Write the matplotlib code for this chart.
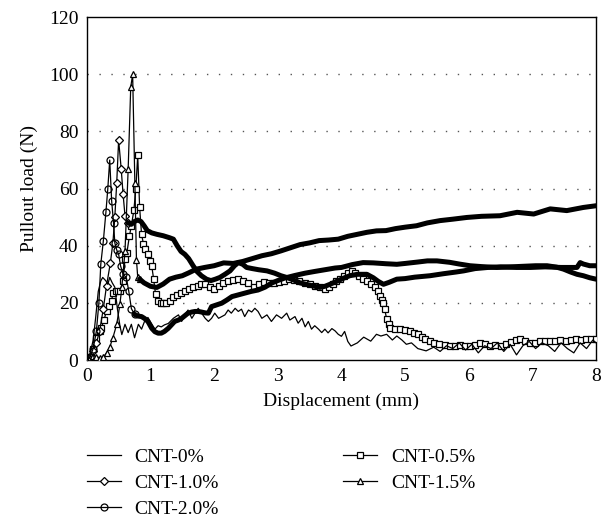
import matplotlib
matplotlib.use("Agg")
import matplotlib.pyplot as plt

plt.rcParams['font.family'] = ['Liberation Serif', 'DejaVu Serif']
plt.rcParams['font.size'] = 14

# CNT-0% (plain line)
x0 = [0, 0.05, 0.1, 0.14, 0.18, 0.22, 0.25, 0.3, 0.33, 0.36, 0.4, 0.44, 0.48, 0.52, 0.55,
      0.6, 0.65, 0.7, 0.75, 0.81, 0.86, 0.91, 0.96, 1.01, 1.07, 1.12, 1.17, 1.22, 1.28, 1.36,
      1.44, 1.49, 1.54, 1.59, 1.65, 1.7, 1.75, 1.8, 1.86, 1.91, 1.96, 2.01, 2.07, 2.12, 2.17,
      2.22, 2.27, 2.33, 2.38, 2.43, 2.48, 2.54, 2.59, 2.64, 2.69, 2.75, 2.83, 2.9, 2.98, 3.06,
      3.14, 3.19, 3.27, 3.32, 3.38, 3.43, 3.48, 3.53, 3.58, 3.64, 3.69, 3.74, 3.79, 3.85, 3.9,
      3.95, 4.0, 4.05, 4.1, 4.15, 4.25, 4.35, 4.46, 4.55, 4.62, 4.71, 4.8, 4.87, 4.95, 5.02,
      5.1, 5.2, 5.33, 5.45, 5.55, 5.65, 5.75, 5.85, 5.95, 6.05, 6.15, 6.25, 6.35, 6.45, 6.55,
      6.65, 6.75, 6.85, 6.95, 7.05, 7.15, 7.25, 7.35, 7.45, 7.55, 7.65, 7.75, 7.85, 7.95, 8.0]
y0 = [0, 2, 7, 15, 24, 27.7, 28.9, 27.7, 26.5, 28.9, 27, 25.5, 18, 12, 8.9,
      12.5, 9.6, 12.5, 7.8, 12.5, 10.8, 13.7, 14.9, 13, 10.8, 12, 11.6, 12.3, 12.8, 14.6,
      15.8, 13.5, 15.8, 17.5, 14.6, 16.4, 18.1, 16.5, 14.6, 13.5, 14.6, 16.4, 14.6, 15.2, 15.8,
      17.5, 16.4, 18.1, 17, 17.8, 15.2, 17.5, 16.8, 18.1, 17, 14.6, 15.8, 13.5, 15.8, 14.6,
      16.4, 14, 15.2, 12.9, 14.6, 11.6, 13.5, 10.8, 12, 10.8, 9.6, 10.8, 9.5, 11, 10.2,
      9, 8.3, 10, 6.5, 4.9, 6, 8, 6.6, 9, 8.4, 9, 7, 8.4, 7, 5.5,
      6, 4, 3.2, 4.5, 3, 5, 4, 6, 3.5, 5.5, 2.5, 5, 4, 6, 3,
      5.5, 1.8, 5, 6.5, 4, 6, 5, 3, 6, 4, 2.5, 6, 4, 7, 6]

# CNT-0.5% (squares)
x05 = [0, 0.05, 0.1, 0.15, 0.2, 0.23, 0.27, 0.31, 0.35, 0.39, 0.41, 0.46, 0.52, 0.57, 0.6,
       0.63, 0.67, 0.7, 0.74, 0.77, 0.8, 0.83, 0.86, 0.89, 0.92, 0.96, 0.99, 1.02, 1.05, 1.08,
       1.12, 1.16, 1.2, 1.25, 1.3, 1.36, 1.42, 1.48, 1.54, 1.6, 1.67, 1.74, 1.8, 1.86, 1.93,
       2.0, 2.07, 2.14, 2.22, 2.3, 2.38, 2.46, 2.54, 2.62, 2.7, 2.78, 2.86, 2.94, 3.02, 3.1,
       3.18, 3.26, 3.34, 3.42, 3.5, 3.58, 3.66, 3.74, 3.8, 3.86, 3.92, 3.98, 4.04, 4.1, 4.16,
       4.22, 4.28, 4.34, 4.4, 4.46, 4.52, 4.57, 4.61, 4.64, 4.66, 4.68, 4.71, 4.74, 4.77, 4.84,
       4.92, 5.0, 5.08, 5.14, 5.2, 5.26, 5.32, 5.39, 5.46, 5.54, 5.62, 5.7, 5.78, 5.86, 5.94,
       6.02, 6.1, 6.18, 6.26, 6.34, 6.42, 6.5, 6.58, 6.66, 6.74, 6.8, 6.88, 6.96, 7.04, 7.12,
       7.2, 7.28, 7.36, 7.44, 7.52, 7.6, 7.68, 7.76, 7.84, 7.92, 8.0]
y05 = [0, 1, 4, 7.8, 10, 11.3, 14, 17.2, 19, 20.7, 23.6, 24, 24.2, 27.7, 35.3,
       37.6, 43.5, 47, 52.5, 60, 71.6, 53.4, 44, 40.6, 38.8, 37, 34.7, 33, 28.3, 23,
       20.5, 19.8, 20, 19.8, 20.5, 21.9, 22.8, 23.6, 24, 24.8, 25.6, 26, 26.5, 26.5, 25.5,
       25, 25.9, 27, 27.6, 28, 28.2, 27.8, 27, 25.6, 26.5, 27.2, 27, 27, 27.4, 27.8,
       28.2, 28, 27.5, 27, 26.5, 25.8, 25.5, 24.7, 25.4, 26.5, 27.5, 28.3, 29.5, 30.4, 31.2,
       30.5, 29.4, 28.3, 27.5, 26.5, 25.4, 24, 22.4, 21, 20, 17.8, 14.3, 12.5, 11.3, 11,
       10.8, 10.5, 10.2, 9.6, 9, 8, 7.3, 6.7, 6, 5.5, 5.2, 5, 4.9, 5.3, 4.9,
       5, 5.4, 5.8, 5.5, 5, 5.3, 4.9, 5.5, 6.3, 7, 7.3, 6.5, 6, 6.1, 6.5,
       6.8, 6.5, 6.7, 7, 6.8, 6.9, 7.2, 7, 7.3, 7.4, 7.3]

# CNT-1.0% (diamonds)
x10 = [0, 0.05, 0.1, 0.15, 0.2, 0.26, 0.31, 0.37, 0.41, 0.44, 0.47, 0.5, 0.54, 0.57, 0.6,
       0.65, 0.7, 0.75, 0.8, 0.85, 0.9, 0.95, 1.02, 1.1, 1.2, 1.3, 1.36, 1.42, 1.48, 1.54,
       1.6, 1.67, 1.73, 1.8, 1.88, 1.95, 2.02, 2.09, 2.17, 2.25, 2.32, 2.38, 2.45, 2.51, 2.6,
       2.7, 2.83, 2.95, 3.05, 3.14, 3.25, 3.35, 3.5, 3.66, 3.74, 3.82, 3.95, 4.05, 4.13, 4.25,
       4.4, 4.5, 4.58, 4.66, 4.75, 4.87, 5.0, 5.15, 5.39, 5.6, 5.8, 5.92, 6.1, 6.3, 6.5,
       6.75, 6.97, 7.2, 7.45, 7.7, 7.75, 7.8, 7.9, 8.0]
y10 = [0, 1, 3, 6, 10, 18, 26, 34, 41, 50, 62, 77, 67, 58, 50.5,
       48, 47.5, 48.5, 49, 48.5, 47, 45.3, 44.5, 44, 43.5, 42.8, 42.3, 40, 38, 37,
       35.5, 33, 31, 29.5, 28.3, 27.8, 28.3, 28.9, 30, 31.2, 33, 34.1, 33.5, 32.4, 32,
       31.6, 31.2, 30.4, 29.5, 28.9, 28, 27, 26.2, 25.4, 25.8, 26.5, 27.8, 28.8, 29.5, 30,
       30, 28.8, 27.5, 26.5, 27.2, 28.3, 28.5, 29, 29.5, 30.2, 30.8, 31.2, 32, 32.4, 32.6,
       32.4, 32.4, 32.6, 32.4, 32.4, 34.1, 33.6, 33, 33]

# CNT-1.5% (triangles)
x15 = [0, 0.05, 0.1, 0.15, 0.2, 0.26, 0.31, 0.36, 0.41, 0.47, 0.52, 0.55, 0.6, 0.65, 0.69,
       0.72, 0.755, 0.78, 0.8, 0.83, 0.9, 1.0, 1.1, 1.2, 1.3, 1.4, 1.5, 1.6, 1.72, 1.85,
       2.0, 2.15, 2.3, 2.45, 2.6, 2.75, 2.9, 3.05, 3.2, 3.35, 3.5, 3.65, 3.8, 3.95, 4.1,
       4.25, 4.4, 4.55, 4.7, 4.85, 5.0, 5.18, 5.35, 5.55, 5.75, 5.97, 6.2, 6.49, 6.76, 7.02,
       7.28, 7.54, 7.8, 8.0]
y15 = [0, 0.8, 1.5, 1.2, 0.8, 1, 2.5, 4.5, 7.8, 12.5, 19.5, 25.4, 38, 67, 95.5,
       100, 62, 35, 29, 28.3, 27, 25.8, 25.4, 26.6, 28.3, 29, 29.5, 30.5, 31.8, 32.4,
       33, 34, 33.8, 34.5, 35.5, 36.5, 37.2, 38.2, 39.3, 40.4, 41, 41.8, 42, 42.3, 43.3,
       44, 44.7, 45.2, 45.3, 46, 46.5, 47, 48, 48.8, 49.3, 49.9, 50.3, 50.5, 51.7, 51.1,
       52.9, 52.3, 53.4, 54]

# CNT-2.0% (circles)
x20 = [0, 0.05, 0.1, 0.15, 0.19, 0.22, 0.26, 0.3, 0.33, 0.36, 0.39, 0.42, 0.44, 0.47, 0.5,
       0.53, 0.57, 0.62, 0.66, 0.7, 0.75, 0.8, 0.86, 0.91, 0.96, 1.02, 1.07, 1.12, 1.17, 1.22,
       1.28, 1.33, 1.38, 1.44, 1.49, 1.54, 1.59, 1.65, 1.7, 1.75, 1.8, 1.86, 1.91, 1.96, 2.04,
       2.12, 2.2, 2.28, 2.38, 2.48, 2.58, 2.69, 2.8, 2.9, 3.0, 3.11, 3.27, 3.43, 3.58, 3.74,
       3.9, 4.0, 4.17, 4.34, 4.5, 4.7, 4.87, 5.0, 5.2, 5.35, 5.5, 5.7, 5.85, 6.02, 6.2,
       6.44, 6.65, 6.85, 7.05, 7.23, 7.38, 7.49, 7.6, 7.7, 7.8, 7.9, 8.0]
y20 = [0, 1, 4, 10, 20, 33.6, 41.7, 51.7, 60, 70, 55.8, 48, 41, 38.5, 37,
       33, 30, 28.9, 24, 18, 16, 15.4, 15.2, 14.5, 13.5, 11.1, 9.9, 9.4, 9.4, 10,
       11.1, 12.3, 13.5, 14, 14.6, 15.5, 16.4, 16.8, 17, 17, 16.8, 16.5, 16.4, 18.7, 19.3,
       19.9, 21, 22.2, 22.8, 23.4, 24, 24.5, 25.5, 26.9, 27.8, 28.7, 29.6, 30.4, 31, 31.6,
       32.2, 32.4, 33.4, 34.1, 34, 33.7, 33.5, 33.8, 34.3, 34.7, 34.7, 34.2, 33.6, 33, 32.7,
       32.4, 32.6, 32.8, 33, 33, 32.5, 31.8, 30.8, 30, 29.5, 28.8, 28.3]

labels = ['CNT-0%', 'CNT-0.5%', 'CNT-1.0%', 'CNT-1.5%', 'CNT-2.0%']
xticks = [0, 1, 2, 3, 4, 5, 6, 7, 8]
yticks = [0, 20, 40, 60, 80, 100, 120]

for a, b in [(x0, y0), (x05, y05), (x10, y10), (x15, y15), (x20, y20)]:
    assert len(a) == len(b), (len(a), len(b))

fig = plt.figure(figsize=(6.07, 5.21), dpi=100)
ax = fig.add_axes([0.143, 0.309, 0.839, 0.658])


def marked(x, y, marker, ms, fill, label, n_open=None):
    # open markers along the early (sparse) part, heavy band for the rest
    if n_open is None:
        n_open = len(x)
    h, = ax.plot(x[:n_open + 1], y[:n_open + 1], color='k', lw=0.9, marker=marker,
                 ms=ms, mfc=fill, mec='k', mew=0.9, label=label, zorder=3)
    if n_open < len(x):
        ax.plot(x[n_open:], y[n_open:], color='k', lw=3.6, solid_joinstyle='round',
                solid_capstyle='round', zorder=3)
    return h


h0, = ax.plot(x0, y0, color='k', lw=0.9, label=labels[0], zorder=4)
h05 = marked(x05, y05, 's', 5, 'white', labels[1])
h10 = marked(x10, y10, 'D', 4, 'white', labels[2], n_open=15)
h15 = marked(x15, y15, '^', 5, 'white', labels[3], n_open=19)
h20 = marked(x20, y20, 'o', 5, 'none', labels[4], n_open=20)

ax.set_xlim(0, 8)
ax.set_ylim(0, 120)
ax.set_xticks(xticks)
ax.set_yticks(yticks)
ax.tick_params(length=0, pad=6)
for v in yticks[1:-1]:
    ax.axhline(v, color='#555555', lw=1.0, ls=(0, (1, 7.6)), zorder=1)
for s in ax.spines.values():
    s.set_linewidth(1.0)

ax.set_xlabel('Displacement (mm)', labelpad=5)
ax.set_ylabel('Pullout load (N)', labelpad=8)

fig.legend([h0, h10, h20, h05, h15],
           [labels[0], labels[2], labels[4], labels[1], labels[3]],
           ncol=2, loc='upper left', bbox_to_anchor=(0.143, 0.139),
           frameon=False, borderpad=0, borderaxespad=0, handlelength=1.75,
           handletextpad=0.7, columnspacing=6.4, labelspacing=0.43)

fig.savefig('out.png', dpi=100)
